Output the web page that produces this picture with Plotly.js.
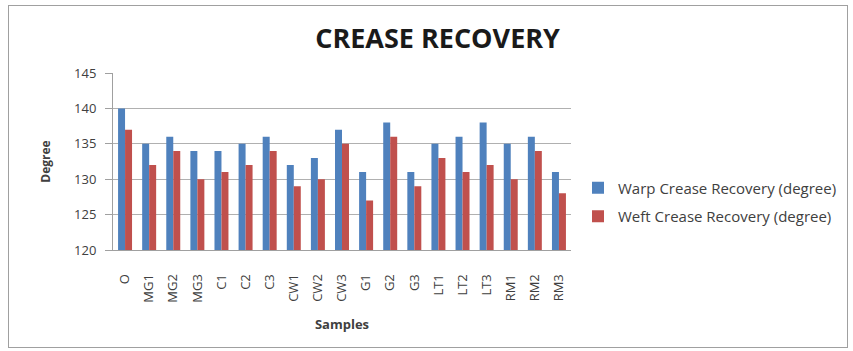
<!DOCTYPE html>
<html>
<head>
<meta charset="utf-8">
<script src="https://cdn.plot.ly/plotly-3.0.1.min.js"></script>
<style>
html,body{margin:0;padding:0;background:#fff;}
#frame{position:absolute;left:8px;top:5px;width:840px;height:343px;border:1px solid #a0a0a0;box-sizing:border-box;}
#chart{position:absolute;left:0;top:0;width:853px;height:351px;}
</style>
</head>
<body>
<div id="frame"></div>
<div id="chart"></div>
<script>
var samples = ["O","MG1","MG2","MG3","C1","C2","C3","CW1","CW2","CW3","G1","G2","G3","LT1","LT2","LT3","RM1","RM2","RM3"];
var warpValues = [140,135,136,134,134,135,136,132,133,137,131,138,131,135,136,138,135,136,131];
var weftValues = [137,132,134,130,131,132,134,129,130,135,127,136,129,133,131,132,130,134,128];
var warpName = "Warp Crease Recovery (degree)";
var weftName = "Weft Crease Recovery (degree)";
var yTicks = [120,125,130,135,140,145];

var font = "Open Sans, Liberation Sans, sans-serif";
var traces = [
  {type:"bar", x:samples, y:warpValues, name:warpName, marker:{color:"#4F81BD"}, legendgroup:"a"},
  {type:"bar", x:samples, y:weftValues, name:weftName, marker:{color:"#C0504D"}, legendgroup:"b"}
];
var layout = {
  width:853, height:351,
  paper_bgcolor:"rgba(0,0,0,0)", plot_bgcolor:"rgba(0,0,0,0)",
  margin:{l:113, r:281, t:73, b:101},
  font:{family:font, size:12, color:"#404040"},
  title:{text:"<b>CREASE RECOVERY</b>", font:{family:font, size:27, color:"#1a1a1a"}, xref:"container", x:0.513, xanchor:"center", yref:"container", y:0.89, yanchor:"middle"},
  barmode:"group", bargap:0.42, bargroupgap:0,
  xaxis:{
    type:"category", tickangle:-90, showgrid:false, showline:true, linecolor:"#a0a0a0", linewidth:1,
    ticks:"", ticklabelstandoff:18, tickfont:{size:13, color:"#404040"},
    title:{text:"<b>Samples</b>", font:{size:13, color:"#404040"}, standoff:18}
  },
  yaxis:{
    range:[120,145], tickvals:yTicks, showgrid:true, gridcolor:"#b0b0b0", gridwidth:1,
    showline:true, linecolor:"#a0a0a0", ticks:"outside", ticklen:7, tickcolor:"#a0a0a0",
    ticklabelstandoff:6,
    zeroline:false, tickfont:{size:13, color:"#404040"},
    title:{text:"<b>Degree</b>", font:{size:12, color:"#404040"}, standoff:20}
  },
  legend:{x:(578-113)/459, xanchor:"left", y:(250-202)/177, yanchor:"middle", font:{size:15, color:"#404040"}, tracegroupgap:6, itemwidth:30, traceorder:"grouped"},
  showlegend:true
};
Plotly.newPlot("chart", traces, layout, {displayModeBar:false, staticPlot:true});
</script>
</body>
</html>
